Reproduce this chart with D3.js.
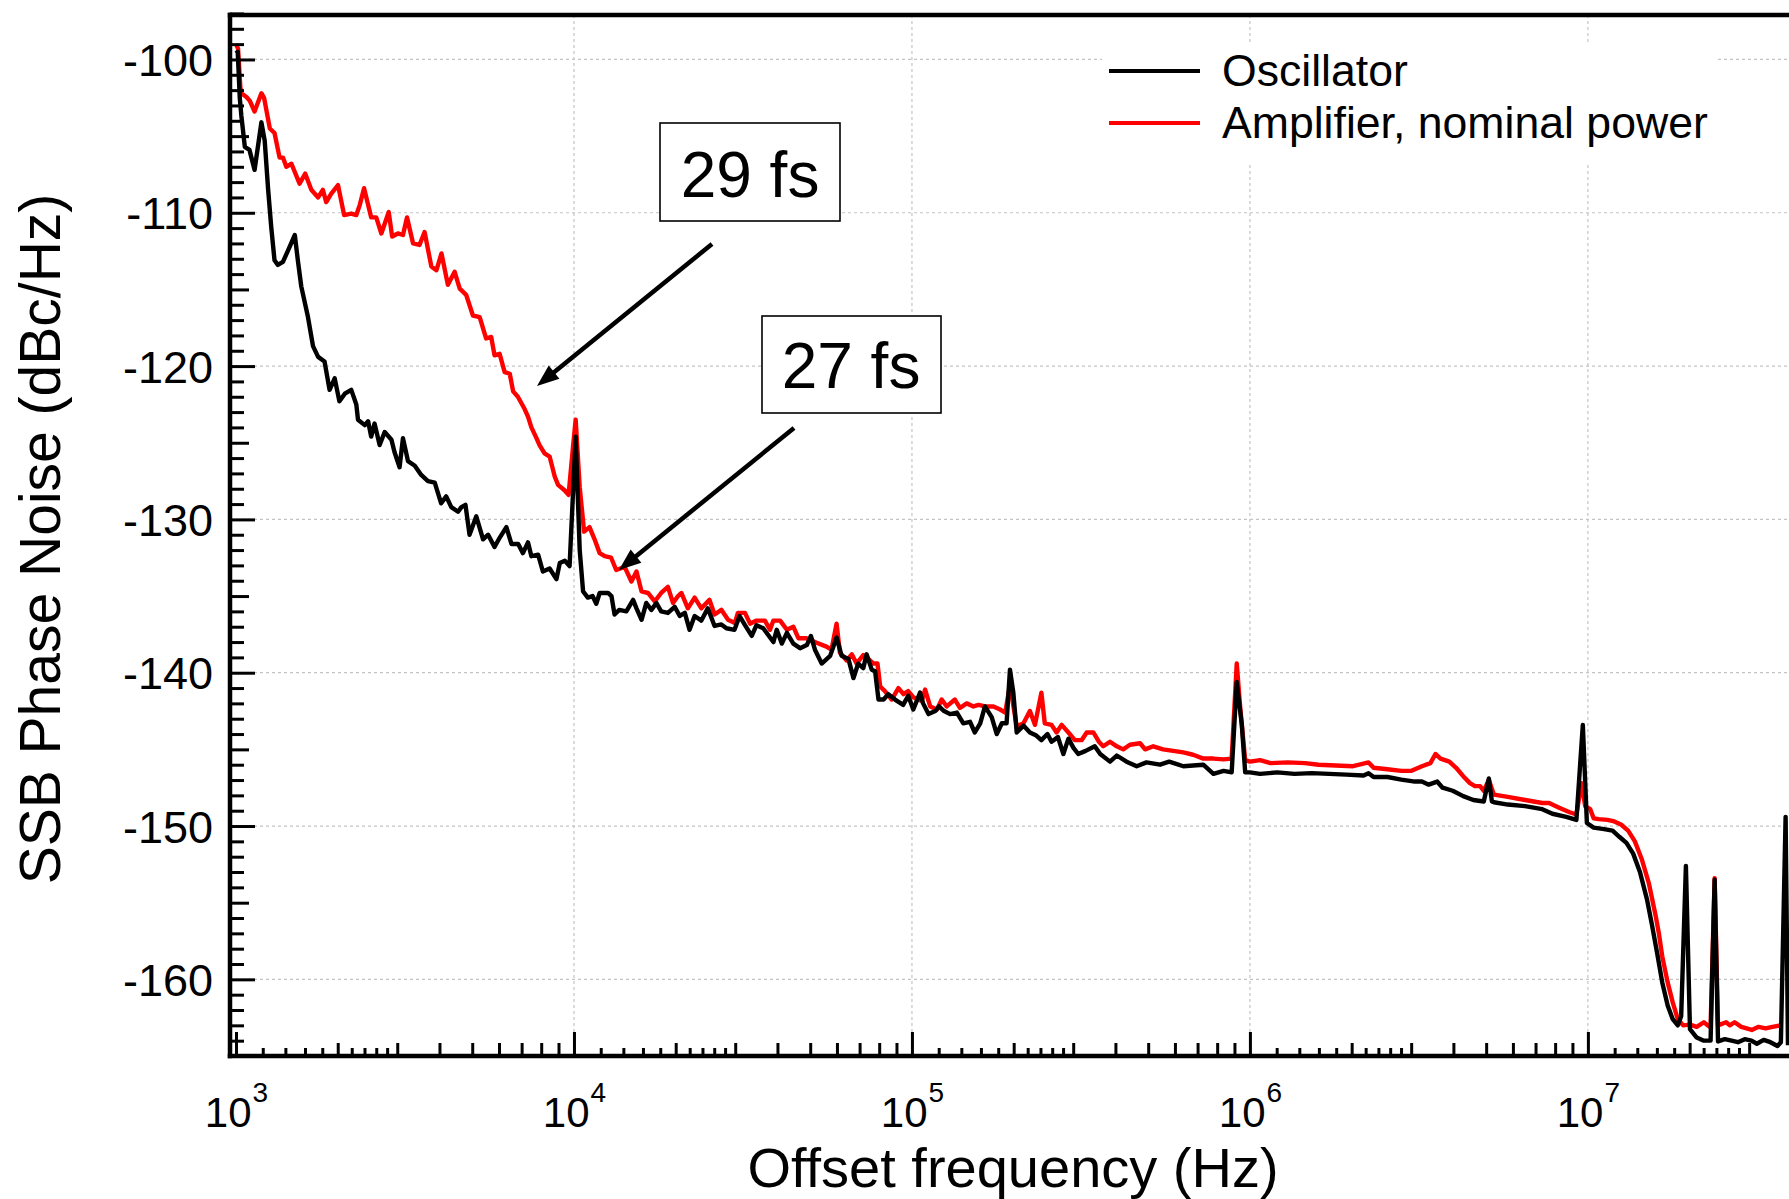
<!DOCTYPE html>
<html><head><meta charset="utf-8">
<script src="https://cdn.jsdelivr.net/npm/d3@7"></script>
<style>
html,body{margin:0;padding:0;background:#fff;}
svg{display:block;}
</style></head><body>
<svg id="chart" width="1789" height="1199"></svg>
<script>
// ---------------- DATA ----------------
const seriesNames = ["Oscillator", "Amplifier, nominal power"];
const seriesColors = ["#000000", "#ff0000"];

const oscFreq = [1000,1012,1026,1037,1062,1096,1135,1189,1216,1245,1271,1300,1330,1377,1426,1493,1524,1560,1633,1690,1750,1828,1892,1959,2023,2099,2193,2270,2296,2404,2460,2512,2570,2661,2754,2884,2944,3048,3119,3228,3381,3532,3698,3873,4046,4188,4335,4539,4645,4775,4909,5140,5383,5572,5821,6026,6310,6531,6839,7063,7311,7482,7834,8091,8472,8872,9078,9397,9705,10116,10399,10641,10990,11350,11641,11912,12618,12912,13183,13614,14289,14962,15311,15849,16368,16943,17539,18113,18967,19861,20559,21281,21979,22751,23823,24889,26062,27290,28249,29854,30903,32063,33574,34674,36308,38904,39811,41210,42658,44566,46666,48865,50234,51642,54075,57280,59841,61944,64863,67143,69343,71779,73451,76033,77804,79616,82414,85114,89125,94189,97499,100925,105682,107895,111944,117220,120226,124451,129718,135831,141906,148594,153462,159221,164437,172186,178238,184502,190546,194984,199526,204174,213796,223357,233346,241546,251768,258821,270396,280543,290402,300608,310456,326588,347536,360579,385478,403645,431519,462381,494310,542001,576766,635331,679204,727780,779830,835603,883079,914113,946237,968278,1000000,1071519,1205036,1355189,1524000,1713957,1927525,2167704,2243800,2322700,2552700,2805400,3076000,3228000,3381000,3581000,3715000,3981000,4276000,4581000,4920000,5093000,5200000,5272000,5794000,6516000,7328000,7852000,8630000,9247000,9661000,9931000,10399000,11169000,11830000,12388000,13002000,13614000,14256000,14962000,15488000,16032000,16596000,17219000,17824000,18450000,18880000,19498000,20045000,20989000,22029000,23067000,23714000,24266000,25410000,26607000,27797000,29107000,30479000,31623000,33113000,34674000,36392000,37239000,38459000,39084000];
const oscPN = [-99.6,-99.5,-102.5,-103.65,-105.7,-105.9,-107.2,-104.1,-105.3,-108.5,-110.9,-113.1,-113.4,-113.2,-112.45,-111.45,-113.1,-114.8,-116.8,-118.7,-119.4,-119.7,-121.55,-120.8,-122.3,-121.8,-121.55,-122.5,-123.5,-123.85,-123.6,-124.6,-123.75,-125.15,-124.3,-124.8,-125.6,-126.6,-124.7,-126.2,-126.5,-127.1,-127.5,-127.6,-128.95,-128.5,-129.2,-129.5,-129.2,-129.05,-131.0,-129.8,-131.3,-131.0,-131.8,-131.2,-130.5,-131.6,-131.6,-132.2,-131.5,-132.4,-132.3,-133.4,-133.2,-133.9,-132.85,-132.7,-133.05,-124.6,-132.0,-134.7,-135.1,-135.0,-135.5,-134.8,-134.8,-135.0,-136.2,-135.9,-136.0,-135.25,-135.8,-136.55,-135.45,-135.9,-135.45,-136.0,-136.1,-135.7,-136.3,-136.1,-137.2,-136.3,-136.6,-135.8,-136.95,-136.85,-137.1,-137.2,-136.3,-136.9,-137.6,-136.9,-137.1,-138.0,-137.2,-138.1,-137.4,-138.1,-138.4,-138.2,-137.6,-138.5,-139.4,-138.9,-137.7,-138.9,-139.1,-140.35,-139.4,-139.7,-138.8,-139.8,-139.9,-141.75,-141.75,-141.4,-141.75,-142.1,-141.5,-142.4,-141.3,-142.0,-142.7,-142.5,-142.2,-142.5,-142.7,-142.6,-143.3,-143.2,-143.9,-143.3,-142.2,-142.9,-144.0,-143.3,-143.3,-139.8,-141.3,-143.9,-143.45,-143.9,-144.1,-144.4,-144.0,-144.5,-144.2,-145.3,-144.3,-144.9,-145.3,-145.1,-144.8,-145.3,-145.8,-145.4,-145.8,-146.1,-145.85,-146.0,-145.8,-146.1,-146.05,-146.0,-146.6,-146.4,-146.5,-140.6,-143.4,-146.5,-146.5,-146.6,-146.5,-146.6,-146.55,-146.6,-146.65,-146.7,-146.55,-146.8,-146.8,-146.97,-147.1,-147.1,-147.3,-147.1,-147.5,-147.7,-148.05,-148.3,-148.4,-146.9,-148.4,-148.45,-148.6,-148.7,-148.9,-149.2,-149.4,-149.6,-143.4,-149.8,-150.1,-150.2,-150.3,-150.7,-151.1,-151.8,-153.0,-154.8,-156.5,-158.3,-160.2,-161.7,-162.6,-163.0,-162.4,-152.6,-163.25,-163.8,-164.0,-164.0,-153.5,-164.05,-163.9,-164.0,-164.1,-163.9,-164.0,-164.2,-163.95,-164.1,-164.35,-164.1,-149.4,-164.3];

const ampFreq = [1000,1014,1030,1037,1074,1099,1135,1189,1211,1259,1300,1346,1377,1409,1459,1542,1603,1671,1750,1807,1849,1914,2004,2089,2193,2270,2323,2393,2512,2600,2692,2831,2897,3013,3119,3206,3342,3491,3614,3784,3917,4055,4236,4436,4592,4797,5023,5260,5495,5689,5821,6026,6237,6457,6607,6823,7145,7311,7482,7745,7907,8185,8472,8770,8974,9376,9638,9931,10116,10399,10715,11117,11508,11912,12331,12882,13335,14125,14791,15311,15849,16558,17338,18113,18967,19634,20320,20797,21727,22751,23823,25177,26062,27290,28576,29923,30549,32063,33189,34674,36728,38019,38904,40738,42658,44566,46132,48753,52240,55847,57810,59841,61235,64121,66374,68549,71779,74302,76913,79067,80538,83176,87096,91201,94406,97499,100925,106905,109396,113240,118577,122462,126765,133968,138676,145211,152055,157398,164437,174181,182390,188799,194984,204174,213796,223357,231206,241546,247172,258821,267917,277332,290402,303389,317687,328852,344350,357273,368129,385478,403645,421697,441570,473151,489779,517607,553350,592925,635331,679204,727780,779830,835603,883079,914113,935406,968278,1000000,1071519,1150800,1294196,1455300,1595879,1794700,2018400,2243800,2322700,2552700,2805400,3006000,3228000,3420000,3540000,3664000,3890000,4074000,4276000,4477000,4634000,4797000,4920000,5093000,5272000,5794000,6516000,7328000,7674000,8222000,8831000,9247000,9572000,9817000,10162000,10399000,10765000,11429000,11967000,12531000,13152000,13772000,14454000,15136000,15849000,16218000,16596000,17219000,17824000,18450000,19143000,20045000,20989000,22029000,23067000,23714000,24266000,25645000,26303000,27164000,28445000,30549000,31989000,33574000,35156000,37239000];
const ampPN = [-99.0,-99.3,-101.8,-102.2,-102.45,-102.7,-103.4,-102.2,-102.5,-104.5,-104.8,-106.4,-106.4,-107.0,-106.8,-108.1,-107.45,-108.5,-109.0,-108.5,-109.3,-108.75,-108.2,-110.15,-110.05,-110.15,-109.5,-108.4,-110.3,-110.3,-111.35,-109.95,-111.55,-111.35,-111.45,-110.3,-112.0,-112.1,-111.25,-113.5,-113.75,-112.65,-114.7,-113.85,-114.95,-115.35,-116.7,-116.8,-118.2,-118.1,-119.3,-119.2,-120.4,-120.5,-121.65,-122.0,-122.8,-123.3,-124.0,-124.7,-125.15,-125.7,-125.9,-127.2,-127.75,-128.1,-128.4,-125.3,-123.5,-127.9,-130.8,-130.5,-131.3,-132.2,-132.4,-132.5,-133.3,-133.1,-134.05,-133.4,-134.7,-134.8,-135.35,-134.8,-134.4,-135.45,-135.0,-134.8,-135.8,-135.1,-135.8,-135.25,-136.2,-135.9,-136.55,-136.75,-136.1,-136.1,-136.8,-136.6,-136.6,-137.2,-136.6,-136.6,-137.2,-137.0,-137.75,-137.75,-138.05,-138.3,-138.5,-136.8,-138.7,-139.2,-138.8,-139.4,-138.85,-139.1,-139.4,-139.4,-140.9,-141.2,-141.75,-141.0,-141.4,-141.2,-141.6,-141.85,-141.1,-142.2,-142.4,-141.75,-142.2,-141.75,-142.3,-142.0,-142.2,-142.1,-142.2,-142.2,-142.4,-142.6,-140.8,-143.5,-143.3,-142.5,-143.4,-141.3,-143.3,-143.4,-143.9,-143.4,-143.9,-144.4,-144.4,-143.9,-143.9,-144.5,-144.8,-144.5,-144.8,-145.0,-144.7,-144.6,-145.0,-144.8,-145.0,-145.1,-145.2,-145.35,-145.6,-145.6,-145.65,-145.6,-139.4,-142.2,-145.7,-145.8,-145.7,-145.9,-145.85,-145.9,-146.0,-146.05,-146.1,-145.85,-146.2,-146.3,-146.4,-146.4,-146.1,-145.9,-145.3,-145.6,-145.8,-146.2,-146.75,-147.2,-147.4,-147.4,-147.7,-147.0,-147.95,-148.1,-148.3,-148.5,-148.5,-148.8,-149.1,-149.25,-147.2,-148.7,-148.9,-149.5,-149.55,-149.6,-149.7,-149.9,-150.3,-151.0,-152.2,-153.7,-155.8,-157.0,-158.5,-160.2,-161.5,-162.6,-163.0,-162.95,-163.1,-162.8,-163.15,-153.4,-163.0,-162.8,-163.0,-162.8,-163.1,-163.3,-163.1,-163.2,-163.1,-163.0];

const yTickValues = [-160, -150, -140, -130, -120, -110, -100];
const xTickValues = [1e3, 1e4, 1e5, 1e6, 1e7];
const xTickExponents = ["3", "4", "5", "6", "7"];
const xTitle = "Offset frequency (Hz)";
const yTitle = "SSB Phase Noise (dBc/Hz)";
const annotLabels = ["29 fs", "27 fs"];
const annotTargetFreq = [7773, 13583];
const annotTargetPN = [-121.3, -133.3];

// ---------------- LAYOUT ----------------
const W = 1789, H = 1199;
const P = {left: 230, top: 15, right: 1795, bottom: 1056};
const FONT = "'Liberation Sans', Arial, Helvetica, sans-serif";

const svg = d3.select("#chart");
svg.append("rect").attr("width", W).attr("height", H).attr("fill", "#fff");

const x = d3.scaleLog().domain([960, 4.1e7]).range([P.left, P.right]);
const y = d3.scaleLinear().domain([-165, -97.1]).range([P.bottom, P.top]);

svg.append("defs").append("clipPath").attr("id", "clip")
  .append("rect").attr("x", P.left).attr("y", P.top)
  .attr("width", P.right - P.left).attr("height", P.bottom - P.top);

// grid
const grid = svg.append("g");
grid.selectAll("line.gx").data(xTickValues.slice(1)).join("line").attr("class", "gx")
  .attr("x1", d => x(d)).attr("x2", d => x(d)).attr("y1", P.top).attr("y2", P.bottom);
grid.selectAll("line.gy").data(yTickValues).join("line").attr("class", "gy")
  .attr("x1", P.left).attr("x2", P.right).attr("y1", d => y(d)).attr("y2", d => y(d));
grid.selectAll("line").attr("stroke", "#c4c4c4").attr("stroke-width", 1.2)
  .attr("stroke-dasharray", "3,3");

// curves
const line = d3.line().x(d => x(d[0])).y(d => y(d[1]));
const plotG = svg.append("g").attr("clip-path", "url(#clip)");
plotG.append("path").datum(d3.zip(ampFreq, ampPN)).attr("d", line)
  .attr("fill", "none").attr("stroke", seriesColors[1]).attr("stroke-width", 4.4)
  .attr("stroke-linejoin", "round");
plotG.append("path").datum(d3.zip(oscFreq, oscPN)).attr("d", line)
  .attr("fill", "none").attr("stroke", seriesColors[0]).attr("stroke-width", 4.4)
  .attr("stroke-linejoin", "round");

// ticks
function tickAxis(axis, transform) {
  const g = svg.append("g").attr("transform", transform).call(axis);
  g.attr("font-family", null).attr("font-size", null);
  g.select(".domain").remove();
  g.selectAll(".tick line").attr("stroke", "#000").attr("stroke-width", 3);
  return g;
}
const yAll = d3.range(-165, -96);
const yMinor = yAll.filter(v => v % 5 !== 0);
const yMid = yAll.filter(v => v % 5 === 0 && v % 10 !== 0);
tickAxis(d3.axisLeft(y).tickValues(yMinor).tickSize(-14).tickFormat(""), `translate(${P.left},0)`);
tickAxis(d3.axisLeft(y).tickValues(yMid).tickSize(-19).tickFormat(""), `translate(${P.left},0)`);
const gy = tickAxis(d3.axisLeft(y).tickValues(yTickValues).tickSize(-25).tickPadding(17)
  .tickFormat(d => String(d)), `translate(${P.left},0)`);
gy.selectAll(".tick text").attr("font-family", FONT).attr("font-size", 45).attr("fill", "#000")
  .attr("dy", "0.36em");

const xSmall = [], xMed = [];
[3, 4, 5, 6, 7].forEach(n => {
  [1.2, 1.4, 1.6, 1.8, 2.2, 2.4, 2.6, 2.8].forEach(m => xSmall.push(m * Math.pow(10, n)));
  [2, 3, 4, 5, 6, 7, 8, 9].forEach(m => xMed.push(m * Math.pow(10, n)));
});
const inDom = v => v >= 960 && v <= 4.1e7;
tickAxis(d3.axisBottom(x).tickValues(xSmall.filter(inDom)).tickSize(-8).tickFormat(""), `translate(0,${P.bottom})`);
tickAxis(d3.axisBottom(x).tickValues(xMed.filter(inDom)).tickSize(-13).tickFormat(""), `translate(0,${P.bottom})`);
const gx = tickAxis(d3.axisBottom(x).tickValues(xTickValues).tickSize(-24).tickFormat(""), `translate(0,${P.bottom})`);
gx.selectAll(".tick text").each(function(d, i) {
  const t = d3.select(this);
  t.attr("y", 71).attr("dy", null).attr("font-family", FONT).attr("fill", "#000")
    .attr("text-anchor", "middle").attr("font-size", 42);
  t.append("tspan").text("10");
  t.append("tspan").attr("dx", 1).attr("dy", -25).attr("font-size", 28).text(xTickExponents[i]);
});

// frame
const frame = svg.append("g").attr("stroke", "#000").attr("stroke-width", 4.5)
  .attr("stroke-linecap", "square");
frame.append("line").attr("x1", P.left).attr("x2", P.left).attr("y1", P.top).attr("y2", P.bottom);
frame.append("line").attr("x1", P.left).attr("x2", P.right).attr("y1", P.bottom).attr("y2", P.bottom);
frame.append("line").attr("x1", P.left).attr("x2", P.right).attr("y1", P.top).attr("y2", P.top);
frame.append("line").attr("x1", P.right).attr("x2", P.right).attr("y1", P.top).attr("y2", P.bottom);

// axis titles
svg.append("text").attr("x", 1013).attr("y", 1187).attr("text-anchor", "middle")
  .attr("font-family", FONT).attr("font-size", 56).attr("fill", "#000").text(xTitle);
svg.append("text").attr("transform", "translate(60,539) rotate(-90)").attr("text-anchor", "middle")
  .attr("font-family", FONT).attr("font-size", 57).attr("fill", "#000").text(yTitle);

// legend
const leg = svg.append("g");
leg.append("rect").attr("x", 1102).attr("y", 43).attr("width", 615).attr("height", 119).attr("fill", "#fff");
const legY = [71, 123];
seriesNames.forEach((name, i) => {
  leg.append("line").attr("x1", 1109).attr("x2", 1200).attr("y1", legY[i]).attr("y2", legY[i])
    .attr("stroke", seriesColors[i]).attr("stroke-width", 4);
  leg.append("text").attr("x", 1222).attr("y", legY[i] + 15).attr("font-family", FONT)
    .attr("font-size", 44.6).attr("fill", "#000").text(name);
});

// annotations
const boxes = [{x: 660, y: 123, w: 180, h: 98, tx: 750, ty: 197, sx: 712, sy: 244},
               {x: 762, y: 316, w: 179, h: 97, tx: 851, ty: 388, sx: 794, sy: 428}];
annotLabels.forEach((lab, i) => {
  const b = boxes[i];
  const g = svg.append("g");
  const tx = x(annotTargetFreq[i]), ty = y(annotTargetPN[i]);
  const dx = tx - b.sx, dy = ty - b.sy, len = Math.hypot(dx, dy);
  const ux = dx / len, uy = dy / len, nx = -uy, ny = ux;
  const L = 22, w = 8.5;
  const bx = tx - ux * L, by = ty - uy * L;
  g.append("line").attr("x1", b.sx).attr("y1", b.sy).attr("x2", bx + ux * 2).attr("y2", by + uy * 2)
    .attr("stroke", "#000").attr("stroke-width", 4.5);
  g.append("path").attr("d", `M${tx},${ty}L${bx + nx * w},${by + ny * w}L${bx - nx * w},${by - ny * w}Z`)
    .attr("fill", "#000");
  g.append("rect").attr("x", b.x).attr("y", b.y).attr("width", b.w).attr("height", b.h)
    .attr("fill", "#fff").attr("stroke", "#000").attr("stroke-width", 1.6);
  g.append("text").attr("x", b.tx).attr("y", b.ty).attr("text-anchor", "middle")
    .attr("font-family", FONT).attr("font-size", 64).attr("fill", "#000").text(lab);
});
</script>
</body></html>
